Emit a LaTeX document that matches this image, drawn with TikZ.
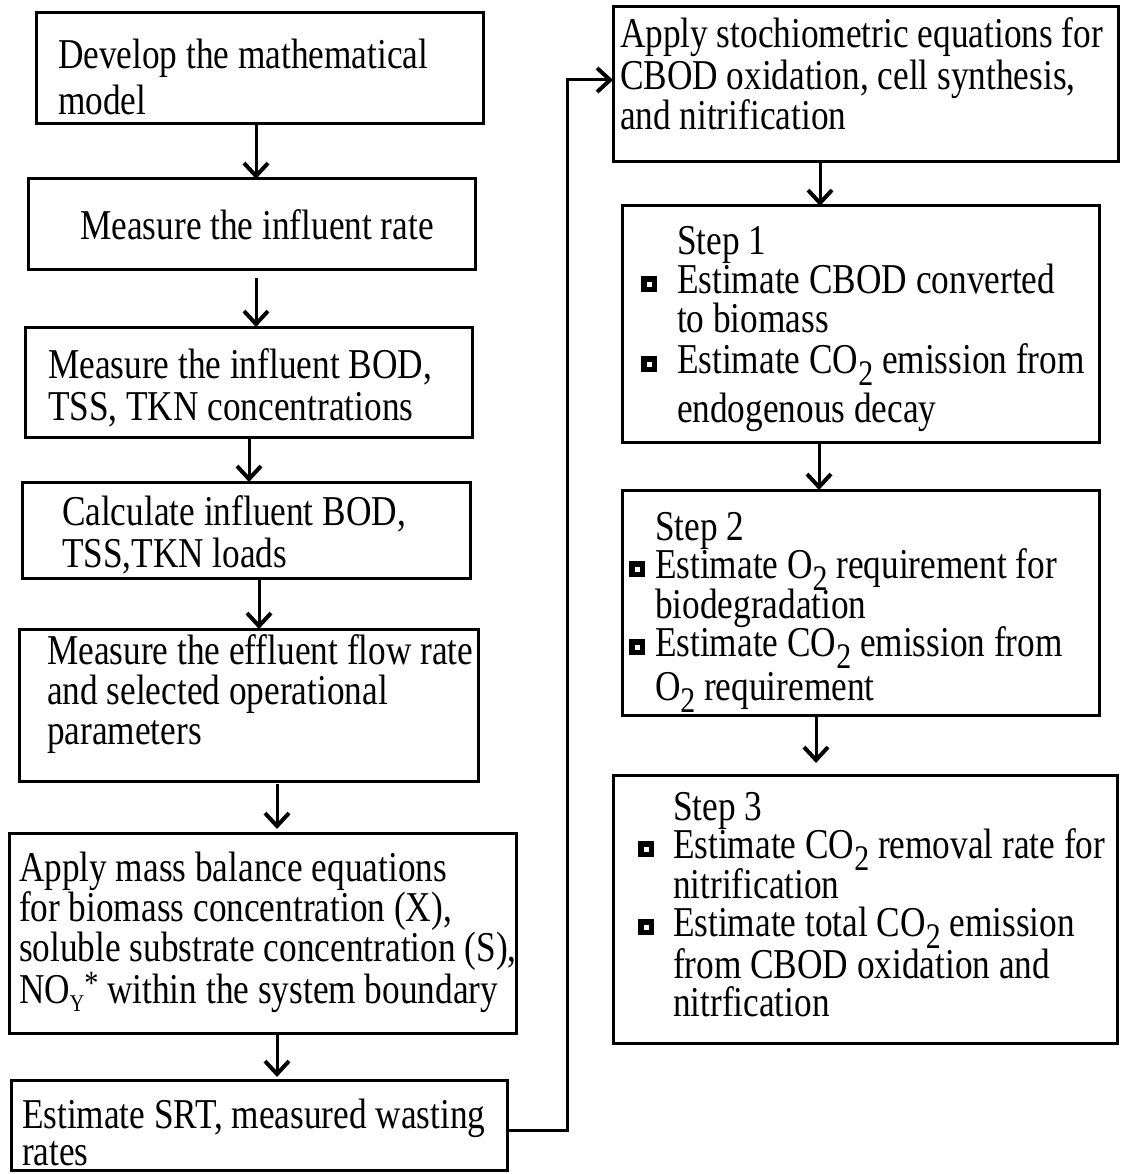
\documentclass[tikz,border=0pt]{standalone}
\usepackage{fontspec}
\setmainfont{Liberation Serif}[FakeStretch=0.83]
\usetikzlibrary{arrows.meta}
\newcommand\bulbox{\raisebox{6.5pt}{\setlength\fboxsep{0pt}\setlength\fboxrule{5.5pt}\fbox{\rule{0pt}{5pt}\rule{5pt}{0pt}}}}
\newcommand\bulA{\llap{\bulbox\hspace{20pt}}}
\newcommand\bulB{\llap{\bulbox\hspace{10pt}}}
\newcommand\bulC{\llap{\bulbox\hspace{19pt}}}
\newcommand\lowtwo{{\fontsize{36}{36}\selectfont\raisebox{-12pt}{2}}}
\newcommand\fs{\rule{0pt}{32pt}}
\newcommand\txtfont{\fontsize{42.5}{40}\selectfont\lineskiplimit=-100pt\relax\lineskip=0pt\relax}
\begin{document}
\begin{tikzpicture}[x=1pt,y=-1pt,
  box/.style={draw, line width=3pt, inner sep=0pt, outer sep=0pt, anchor=north west},
  txt/.style={inner sep=0pt, outer sep=0pt, anchor=north west, align=left, font=\txtfont},
  arr/.style={line width=3pt, -{Straight Barb[length=13pt,width=24pt,line width=4pt]}}]
\fill[white] (0,0) rectangle (1123,1174);
\useasboundingbox (0,0) rectangle (1123,1174);

% left column boxes
\node[box, minimum width=447pt, minimum height=111pt] (b1) at (36,13) {};
\node[box, minimum width=447pt, minimum height=90pt]  (b2) at (28,179) {};
\node[box, minimum width=447pt, minimum height=110pt] (b3) at (25,327) {};
\node[box, minimum width=448pt, minimum height=96pt]  (b4) at (22,482) {};
\node[box, minimum width=459pt, minimum height=152pt] (b5) at (19,629) {};
\node[box, minimum width=507pt, minimum height=200pt] (b6) at (9,833) {};
\node[box, minimum width=496pt, minimum height=90pt]  (b7) at (11,1080) {};

% right column boxes
\node[box, minimum width=505pt, minimum height=155pt] (r1) at (613,7) {};
\node[box, minimum width=477pt, minimum height=236pt] (r2) at (622,206) {};
\node[box, minimum width=477pt, minimum height=225pt] (r3) at (622,490) {};
\node[box, minimum width=504pt, minimum height=268pt] (r4) at (613,775) {};

% texts
\node[txt] (t1) at (58,37) {\fs Develop the mathematical\\[6pt] model};
\node[txt, anchor=north, align=center] (t2) at (257,208) {\fs Measure the influent rate};
\node[txt] (t3) at (48,346) {\fs Measure the influent BOD,\\[2pt] TSS, TKN concentrations};
\node[txt] (t4) at (62,493) {\fs Calculate influent BOD,\\[2pt] TSS,TKN loads};
\node[txt] (t5) at (47,632) {\fs Measure the effluent flow rate\\ and selected operational\\ parameters};
\node[txt] (t6) at (19,849) {\fs Apply mass balance equations\\ for biomass concentration (X),\\ soluble substrate concentration (S),\\[2pt] NO\raisebox{-8pt}{\fontsize{24}{24}\selectfont Y}\raisebox{9pt}{\fontsize{34}{34}\selectfont *} within the system boundary};
\node[txt] (t7) at (22,1096) {\fs Estimate SRT, measured wasting\\[-3pt] rates};

\node[txt] (u1) at (620,16) {\fs Apply stochiometric equations for\\[2pt] CBOD oxidation, cell synthesis,\\ and nitrification};
\node[txt] (u2) at (677,222) {\fs Step 1\\[-1pt] \bulA Estimate CBOD converted\\[-1pt] to biomass\\[1pt] \bulA Estimate CO\lowtwo{} emission from\\[9pt] endogenous decay};
\node[txt] (u3) at (655,508) {\fs Step 2\\[-2pt] \bulB Estimate O\lowtwo{} requirement for\\ biodegradation\\[-2pt] \bulB Estimate CO\lowtwo{} emission from\\[4pt] O\lowtwo{} requirement};
\node[txt] (u4) at (673,788) {\fs Step 3\\[-2pt] \bulC Estimate CO\lowtwo{} removal rate for\\ nitrification\\[-2pt] \bulC Estimate total CO\lowtwo{} emission\\[2pt] from CBOD oxidation and\\[-2pt] nitrfication};

% connector columns
\coordinate (xa) at (256,0);
\coordinate (xb) at (249,0);
\coordinate (xc) at (259,0);
\coordinate (xd) at (277,0);
\coordinate (xe) at (820,0);
\coordinate (xf) at (819,0);
\coordinate (xg) at (816,0);
\coordinate (loopA) at (567,1130);
\coordinate (loopB) at (567,80);

\draw[arr] (b1.south -| xa) -- (b2.north -| xa);
\draw[arr, shorten <=9pt] (b2.south -| xa) -- (b3.north -| xa);
\draw[arr] (b3.south -| xb) -- (b4.north -| xb);
\draw[arr] (b4.south -| xc) -- (b5.north -| xc);
\draw[arr, shorten <=3pt, shorten >=4pt] (b5.south -| xd) -- (b6.north -| xd);
\draw[arr, shorten >=3pt] (b6.south -| xd) -- (b7.north -| xd);
\draw[arr] (b7.east |- loopA) -- (loopA) -- (loopB) -- (r1.west |- loopB);
\draw[arr] (r1.south -| xe) -- (r2.north -| xe);
\draw[arr] (r2.south -| xf) -- (r3.north -| xf);
\draw[arr, shorten >=12pt] (r3.south -| xg) -- (r4.north -| xg);
\end{tikzpicture}
\end{document}
